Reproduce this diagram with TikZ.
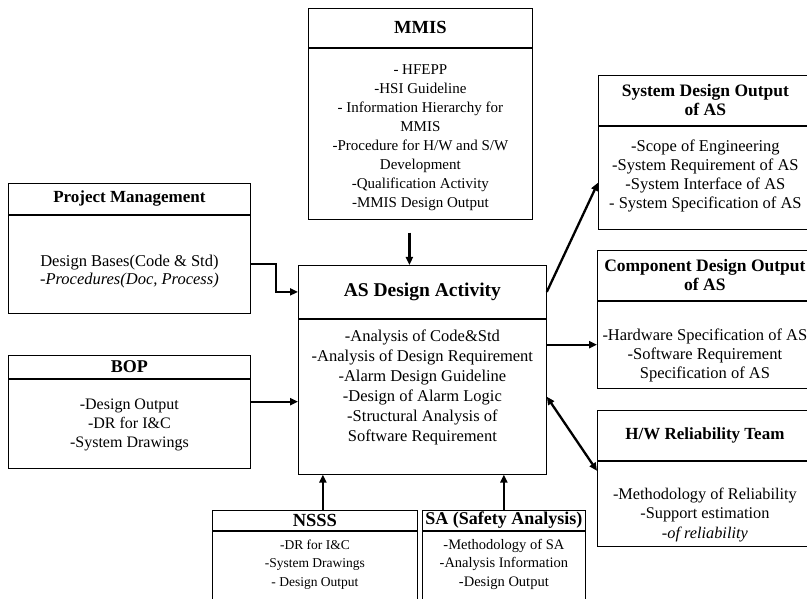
\documentclass[tikz,border=0pt]{standalone}
\usepackage{fontspec}
\setmainfont{Liberation Serif}
\usetikzlibrary{arrows.meta, positioning}
\tikzstyle{headbox} = [
    rectangle,
    draw=black,
    line width=0.8pt,
    inner sep=0pt,
    align=center,
    font=\fontsize{17.5}{19}\selectfont\bfseries
]
\tikzstyle{bodybox} = [
    rectangle,
    draw=black,
    line width=0.8pt,
    inner sep=0pt
]
\tikzstyle{bodytext} = [
    align=center,
    inner sep=0pt,
    font=\fontsize{16.5}{19}\selectfont
]
\tikzstyle{arrow} = [
    -{Triangle[length=8pt,width=7pt]},
    line width=2.3pt,
    color=black
]
\tikzstyle{twoway} = [
    {Triangle[length=8pt,width=7pt]}-{Triangle[length=8pt,width=7pt]},
    line width=2.3pt,
    color=black
]
\begin{document}
\begin{tikzpicture}[x=1pt, y=-1pt]
\useasboundingbox (0,0) rectangle (807,599);
\clip (0,0) rectangle (807,599);

% MMIS
\node[headbox, anchor=north west, minimum width=224pt, minimum height=39pt, font=\fontsize{18.5}{20}\selectfont\bfseries] (mmishead) at (308,8) {MMIS};
\node[bodybox, below=0pt of mmishead, minimum width=224pt, minimum height=171pt] (mmisbody) {};
\node[bodytext, font=\fontsize{15}{19}\selectfont] (mmistext) at (mmisbody.center) [yshift=-4pt] {
    - HFEPP\\
    -HSI Guideline\\
    - Information Hierarchy for\\
    MMIS\\
    -Procedure for H/W and S/W\\
    Development\\
    -Qualification Activity\\
    -MMIS Design Output
};

% Project Management
\node[headbox, anchor=north west, minimum width=242pt, minimum height=31pt, font=\fontsize{17}{19}\selectfont\bfseries] (pmhead) at (8,183) {Project Management};
\node[bodybox, below=0pt of pmhead, minimum width=242pt, minimum height=98pt] (pmbody) {};
\node[bodytext, font=\fontsize{16.5}{18}\selectfont] (pmtext) at (pmbody.center) [yshift=-7pt] {
    Design Bases(Code \& Std)\\
    -\textit{Procedures(Doc, Process)}
};

% BOP
\node[headbox, anchor=north west, minimum width=242pt, minimum height=23pt, font=\fontsize{18}{20}\selectfont\bfseries] (bophead) at (8,355) {BOP};
\node[bodybox, below=0pt of bophead, minimum width=242pt, minimum height=89pt] (bopbody) {};
\node[bodytext, font=\fontsize{16}{19}\selectfont] (boptext) at (bopbody.center) [yshift=-1pt] {
    -Design Output\\
    -DR for I\&C\\
    -System Drawings
};

% AS Design Activity
\node[headbox, anchor=north west, minimum width=248pt, minimum height=53pt, font=\fontsize{19.5}{21}\selectfont\bfseries] (ashead) at (298,265) {AS Design Activity};
\node[bodybox, below=0pt of ashead, minimum width=248pt, minimum height=155pt] (asbody) {};
\node[bodytext, font=\fontsize{16.5}{20}\selectfont] (astext) at (asbody.center) [yshift=9pt] {
    -Analysis of Code\&Std\\
    -Analysis of Design Requirement\\
    -Alarm Design Guideline\\
    -Design of Alarm Logic\\
    -Structural Analysis of\\
    Software Requirement
};

% System Design Output
\node[headbox, anchor=north west, minimum width=214pt, minimum height=50pt] (syshead) at (598,75) {System Design Output\\of AS};
\node[bodybox, below=0pt of syshead, minimum width=214pt, minimum height=103pt] (sysbody) {};
\node[bodytext] (systext) at (sysbody.center) [yshift=2pt] {
    -Scope of Engineering\\
    -System Requirement of AS\\
    -System Interface of AS\\
    - System Specification of AS
};

% Component Design Output
\node[headbox, anchor=north west, minimum width=215pt, minimum height=50pt] (comphead) at (597,250) {Component Design Output\\of AS};
\node[bodybox, below=0pt of comphead, minimum width=215pt, minimum height=87pt] (compbody) {};
\node[bodytext] (comptext) at (compbody.center) [yshift=-11pt] {
    -Hardware Specification of AS\\
    -Software Requirement\\
    Specification of AS
};

% H/W Reliability Team
\node[headbox, anchor=north west, minimum width=215pt, minimum height=50pt, font=\fontsize{17}{19}\selectfont\bfseries] (hwhead) at (597,410) {H/W Reliability Team};
\node[bodybox, below=0pt of hwhead, minimum width=215pt, minimum height=85pt] (hwbody) {};
\node[bodytext, font=\fontsize{16.3}{19.5}\selectfont] (hwtext) at (hwbody.center) [yshift=-11pt] {
    -Methodology of Reliability\\
    -Support estimation\\
    -\textit{of reliability}
};

% NSSS
\node[headbox, anchor=north west, minimum width=205pt, minimum height=20pt, font=\fontsize{18.5}{20}\selectfont\bfseries] (nssshead) at (212,510) {NSSS};
\node[bodybox, below=0pt of nssshead, minimum width=205pt, minimum height=100pt] (nsssbody) {};
\node[bodytext, font=\fontsize{13.5}{18.5}\selectfont] (nssstext) at (nsssbody.north) [yshift=-33.5pt] {
    -DR for I\&C\\
    -System Drawings\\
    - Design Output
};

% SA (Safety Analysis)
\node[headbox, anchor=north west, minimum width=163pt, minimum height=20pt, font=\fontsize{18}{20}\selectfont\bfseries] (sahead) at (422,510) {SA (Safety Analysis)};
\node[bodybox, below=0pt of sahead, minimum width=163pt, minimum height=100pt] (sabody) {};
\node[bodytext, font=\fontsize{14.5}{18.5}\selectfont] (satext) at (sabody.north) [yshift=-33.5pt] {
    -Methodology of SA\\
    -Analysis Information\\
    -Design Output
};

% Connectors
\coordinate (mmisout) at ([xshift=-11pt]mmisbody.south);
\draw[arrow, shorten <=13pt] (mmisout) -- (mmisout |- ashead.north);
\draw[arrow] (pmbody.east) -- ++(25,0) |- (ashead.west);
\coordinate (bopout) at ([yshift=22pt]bopbody.east);
\draw[arrow] (bopout) -- (bopout -| asbody.west);
\coordinate (sysin) at ([yshift=-5pt]sysbody.west);
\draw[arrow] (ashead.east) -- (sysin);
\draw[arrow] (asbody.east |- compbody.west) -- (compbody.west);
\coordinate (hwin) at ([yshift=-10pt]hwbody.north west);
\draw[twoway] (asbody.east) -- (hwin);
\coordinate (nsssout) at ([xshift=8pt]nssshead.north);
\draw[arrow] (nsssout) -- (nsssout |- asbody.south);
\draw[arrow] (sahead.north) -- (sahead.north |- asbody.south);

\end{tikzpicture}
\end{document}
